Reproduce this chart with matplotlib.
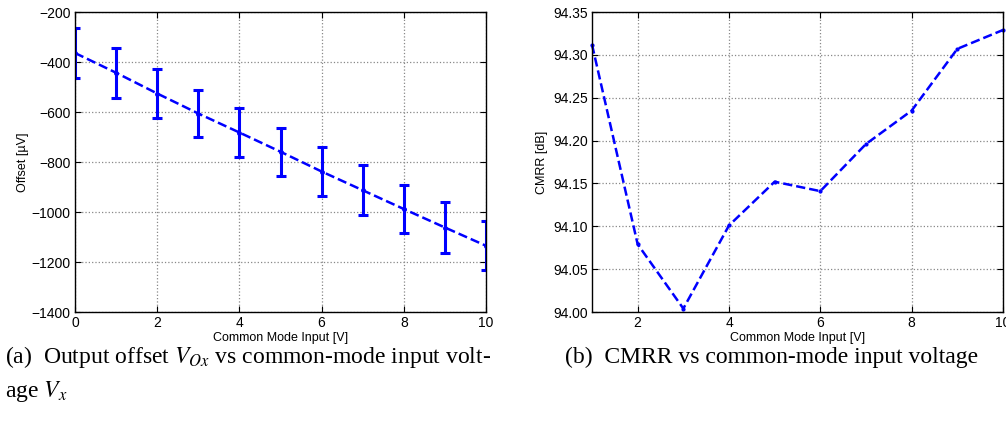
import matplotlib
matplotlib.use('Agg')
import matplotlib.pyplot as plt
import numpy as np

# left panel: output offset vs common-mode input
vin = [0, 1, 2, 3, 4, 5, 6, 7, 8, 9, 10]
offset_uv = [-364, -443, -526, -606, -682, -759, -838, -913, -988, -1062, -1135]
offset_err = [99, 99, 97, 95, 98, 97, 97, 100, 96, 102, 98]

# right panel: CMRR vs common-mode input
vin_cmrr = [1, 2, 3, 4, 5, 6, 7, 8, 9, 10]
cmrr_db = [94.312, 94.079, 94.004, 94.101, 94.152, 94.141, 94.196, 94.235, 94.307, 94.329]

plt.rcParams['font.family'] = ['Liberation Sans', 'DejaVu Sans']
plt.rcParams['mathtext.fontset'] = 'stix'

fig = plt.figure(figsize=(10.06, 4.32), dpi=100)
ax1 = fig.add_axes([75 / 1006, 120 / 432, 411 / 1006, 300 / 432])
ax2 = fig.add_axes([592 / 1006, 120 / 432, 411 / 1006, 300 / 432])

blue = '#0000ff'
serif = ['Liberation Serif', 'DejaVu Serif']


def style(ax):
    ax.grid(True, linestyle=':', color='#888888', linewidth=0.9)
    ax.tick_params(direction='in', top=True, right=True, labelsize=10,
                   length=4, width=0.8, pad=3)
    for s in ax.spines.values():
        s.set_linewidth(1.0)
    ax.set_xlabel('Common Mode Input [V]', fontsize=9, labelpad=1)


ax1.errorbar(vin, offset_uv, yerr=offset_err, color=blue, linestyle='--',
             linewidth=1.8, marker='.', markersize=5, elinewidth=2.2,
             capsize=3.5, capthick=2.2)
ax1.set_xlim(0, 10)
ax1.set_ylim(-1400, -200)
ax1.set_xticks([0, 2, 4, 6, 8, 10])
ax1.set_yticks(np.arange(-1400, -199, 200))
ax1.set_yticklabels([f'\u2212{abs(v)}' for v in range(-1400, -199, 200)])
ax1.set_ylabel('Offset [\u00b5V]', fontsize=9, labelpad=2)
style(ax1)

ax2.plot(vin_cmrr, cmrr_db, color=blue, linestyle='--', linewidth=1.8,
         marker='.', markersize=4, clip_on=False)
ax2.set_xlim(1, 10)
ax2.set_ylim(94.0, 94.35)
ax2.set_xticks([2, 4, 6, 8, 10])
ax2.set_yticks(np.arange(94.0, 94.351, 0.05))
ax2.set_yticklabels([f'{v:.2f}' for v in np.arange(94.0, 94.351, 0.05)])
ax2.set_ylabel('CMRR [dB]', fontsize=9, labelpad=4)
style(ax2)

fig.text(5 / 1006, 1 - 357 / 432,
         '(a)  Output offset $V_{Ox}$ vs common-mode input volt-',
         family=serif, fontsize=17, va='center', ha='left')
fig.text(5 / 1006, 1 - 392 / 432, 'age $V_x$',
         family=serif, fontsize=17, va='center', ha='left')
fig.text(565 / 1006, 1 - 357 / 432,
         '(b)  CMRR vs common-mode input voltage',
         family=serif, fontsize=17, va='center', ha='left')

fig.savefig('out.png', dpi=100)
